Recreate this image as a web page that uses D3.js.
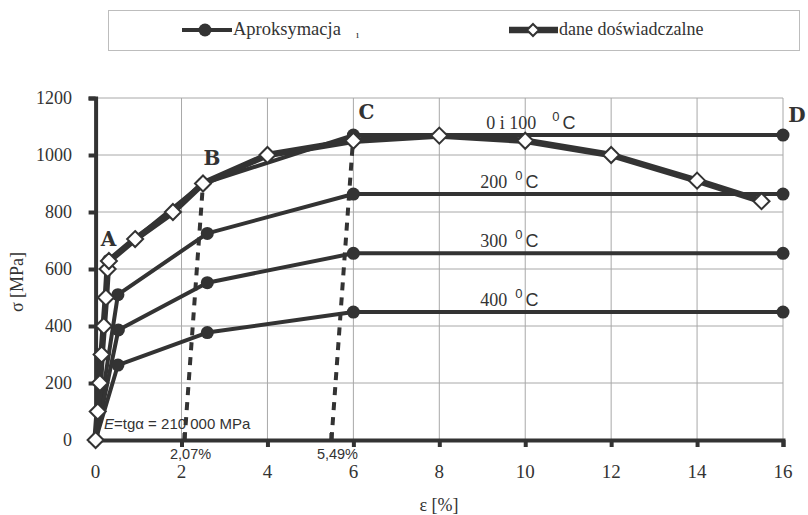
<!DOCTYPE html>
<html><head><meta charset="utf-8">
<script src="https://cdn.jsdelivr.net/npm/d3@7"></script>
<style>
html,body{margin:0;padding:0;background:#fff;}
svg{display:block;}
</style></head>
<body>
<svg id="chart" width="808" height="515"></svg>
<script>
// ---- data ----
const xTicks = [0, 2, 4, 6, 8, 10, 12, 14, 16];
const yTicks = [0, 200, 400, 600, 800, 1000, 1200];

// experimental data (dane doświadczalne)
const epsExp = [0, 0.05, 0.1, 0.14, 0.19, 0.24, 0.28, 0.31, 0.92, 1.8, 2.5, 4, 6, 8, 10, 12, 14, 15.5];
const sigExp = [0, 100, 200, 300, 400, 500, 600, 628, 705, 800, 900, 1000, 1050, 1068, 1050, 1000, 910, 838];

// approximation curves (Aproksymacja)
const epsA100 = [0, 0.3, 2.5, 6, 16];
const sigA100 = [0, 630, 900, 1070, 1070];
const epsA200 = [0, 0.52, 2.6, 6, 16];
const sigA200 = [0, 510, 725, 863, 863];
const epsA300 = [0, 0.53, 2.6, 6, 16];
const sigA300 = [0, 386, 552, 655, 655];
const epsA400 = [0, 0.52, 2.6, 6, 16];
const sigA400 = [0, 263, 377, 449, 449];
const tempLabels = ["0 i 100", "200", "300", "400"];

// unloading lines (slope E)
const unloadEps0 = [2.07, 5.49];
const unloadLabels = ["2,07%", "5,49%"];
const unloadTopEps = [2.5, 6];
const unloadTopSig = [900, 1070];

// point letters
const letters = ["A", "B", "C", "D"];
const letterEps = [0.3, 2.5, 6, 16];
const letterSig = [630, 900, 1070, 1070];

// ---- drawing ----
const dark = "#333";
const svg = d3.select("#chart");
const x = d3.scaleLinear().domain([0, 16]).range([95.6, 783]);
const y = d3.scaleLinear().domain([0, 1200]).range([440, 98]);

// gridlines
const grid = svg.append("g");
grid.selectAll("line.v").data(xTicks.filter(d => d > 0)).enter().append("line")
  .attr("x1", d => x(d)).attr("x2", d => x(d)).attr("y1", y(0)).attr("y2", y(1200))
  .attr("stroke", "#a8a8a8").attr("stroke-width", 1);
grid.selectAll("line.h").data(yTicks.filter(d => d > 0)).enter().append("line")
  .attr("x1", x(0)).attr("x2", x(16)).attr("y1", d => y(d)).attr("y2", d => y(d))
  .attr("stroke", "#a8a8a8").attr("stroke-width", 1);

// axes
const xAxis = svg.append("g").attr("transform", `translate(0,${y(0)})`)
  .call(d3.axisBottom(x).tickValues(xTicks).tickSize(7).tickFormat(""));
xAxis.select(".domain").attr("stroke", dark).attr("stroke-width", 4);
xAxis.selectAll(".tick line").attr("stroke", dark).attr("stroke-width", 4);
const yAxis = svg.append("g").attr("transform", `translate(${x(0)},0)`)
  .call(d3.axisLeft(y).tickValues(yTicks).tickSize(7).tickFormat(""));
yAxis.select(".domain").attr("stroke", dark).attr("stroke-width", 4);
yAxis.selectAll(".tick line").attr("stroke", dark).attr("stroke-width", 4);

// small upward ticks for 2.07 / 5.49
svg.selectAll("line.ut").data(unloadEps0).enter().append("line")
  .attr("x1", d => x(d)).attr("x2", d => x(d)).attr("y1", y(0)).attr("y2", y(0) - 7)
  .attr("stroke", dark).attr("stroke-width", 4);

// tick labels
svg.selectAll("text.xt").data(xTicks).enter().append("text")
  .attr("x", d => x(d)).attr("y", y(0) + 38).attr("text-anchor", "middle")
  .attr("font-family", "Liberation Serif").attr("font-size", 19).attr("fill", dark)
  .text(d => d);
svg.selectAll("text.yt").data(yTicks).enter().append("text")
  .attr("x", 72).attr("y", d => y(d) + 6).attr("text-anchor", "end")
  .attr("font-family", "Liberation Serif").attr("font-size", 18).attr("fill", dark)
  .text(d => d);

// axis titles
svg.append("text").attr("x", 439).attr("y", 511).attr("text-anchor", "middle")
  .attr("font-family", "Liberation Serif").attr("font-size", 18).attr("fill", dark)
  .text("ε [%]");
svg.append("text").attr("transform", "translate(23,282) rotate(-90)").attr("text-anchor", "middle")
  .attr("font-family", "Liberation Serif").attr("font-size", 18).attr("fill", dark)
  .text("σ [MPa]");

// dashed unloading lines
unloadEps0.forEach((e0, i) => {
  svg.append("line")
    .attr("x1", x(e0)).attr("y1", y(0)).attr("x2", x(unloadTopEps[i])).attr("y2", y(unloadTopSig[i]))
    .attr("stroke", dark).attr("stroke-width", 4).attr("stroke-dasharray", "8,7");
  svg.append("text").attr("x", x(e0) + 6).attr("y", y(0) + 19).attr("text-anchor", "middle")
    .attr("font-family", "Liberation Sans").attr("font-size", 14.5).attr("fill", dark)
    .text(unloadLabels[i]);
});

// approximation lines
const approx = [[epsA100, sigA100], [epsA200, sigA200], [epsA300, sigA300], [epsA400, sigA400]];
const line = d3.line().x(d => x(d[0])).y(d => y(d[1]));
approx.forEach(([e, s]) => {
  const pts = e.map((v, i) => [v, s[i]]);
  svg.append("path").attr("d", line(pts)).attr("fill", "none")
    .attr("stroke", dark).attr("stroke-width", 4).attr("stroke-linejoin", "round");
});
// experimental line
const expPts = epsExp.map((v, i) => [v, sigExp[i]]);
svg.append("path").attr("d", line(expPts)).attr("fill", "none")
  .attr("stroke", dark).attr("stroke-width", 6.5).attr("stroke-linejoin", "round");

// approximation markers
approx.forEach(([e, s]) => {
  svg.selectAll(null).data(e.map((v, i) => [v, s[i]]).filter(d => d[0] > 0)).enter().append("circle")
    .attr("cx", d => x(d[0])).attr("cy", d => y(d[1])).attr("r", 6.5).attr("fill", dark);
});
// experimental markers
const diamond = "M0,-8L8,0L0,8L-8,0Z";
svg.selectAll("path.dm").data(expPts).enter().append("path")
  .attr("d", diamond).attr("transform", d => `translate(${x(d[0])},${y(d[1])})`)
  .attr("fill", "#fff").attr("stroke", dark).attr("stroke-width", 2);

// temperature labels
approx.forEach(([e, s], i) => {
  const lvl = s[s.length - 1];
  const t = svg.append("text").attr("x", x(9) - (i === 0 ? -4 : 2)).attr("y", y(lvl) - 6)
    .attr("fill", dark);
  t.append("tspan").attr("font-family", "Liberation Serif").attr("font-size", 18).text(tempLabels[i]);
  t.append("tspan").attr("font-family", "Liberation Sans").attr("font-size", 13)
    .attr("dx", i === 0 ? 16 : 8).attr("dy", -8).text("0");
  t.append("tspan").attr("font-family", "Liberation Sans").attr("font-size", 18)
    .attr("dx", 3).attr("dy", 8).text("C");
});

// modulus annotation
const et = svg.append("text").attr("x", 104).attr("y", 429)
  .attr("font-family", "Liberation Sans").attr("font-size", 15).attr("fill", dark);
et.append("tspan").attr("font-style", "italic").text("E");
et.append("tspan").text("=tgα = 210 000 MPa");

// letters
const letterDx = [0, 9, 13, 14];
const letterDy = [-14, -19, -16, -13];
letters.forEach((l, i) => {
  svg.append("text").attr("x", x(letterEps[i]) + letterDx[i]).attr("y", y(letterSig[i]) + letterDy[i])
    .attr("text-anchor", "middle").attr("font-family", "DejaVu Serif").attr("font-weight", "bold")
    .attr("font-size", 20).attr("fill", dark).text(l);
});

// legend
const lg = svg.append("g");
lg.append("rect").attr("x", 108.5).attr("y", 10.5).attr("width", 691).attr("height", 40)
  .attr("fill", "#fff").attr("stroke", "#bdbdbd").attr("stroke-width", 1);
lg.append("line").attr("x1", 182).attr("x2", 232).attr("y1", 30).attr("y2", 30)
  .attr("stroke", dark).attr("stroke-width", 4);
lg.append("circle").attr("cx", 205).attr("cy", 30).attr("r", 6.5).attr("fill", dark);
lg.append("text").attr("x", 233).attr("y", 35).attr("font-family", "Liberation Serif")
  .attr("font-size", 18.5).attr("fill", dark).text("Aproksymacja");
lg.append("text").attr("x", 356).attr("y", 38).attr("font-family", "Liberation Serif")
  .attr("font-size", 11).attr("fill", dark).text("ı");
lg.append("line").attr("x1", 509).attr("x2", 558).attr("y1", 30).attr("y2", 30)
  .attr("stroke", dark).attr("stroke-width", 6.5);
lg.append("path").attr("d", "M0,-6L6,0L0,6L-6,0Z").attr("transform", "translate(533,30)")
  .attr("fill", "#fff").attr("stroke", dark).attr("stroke-width", 2);
lg.append("text").attr("x", 559).attr("y", 35).attr("font-family", "Liberation Serif")
  .attr("font-size", 18).attr("fill", dark).text("dane doświadczalne");
</script>
</body></html>
